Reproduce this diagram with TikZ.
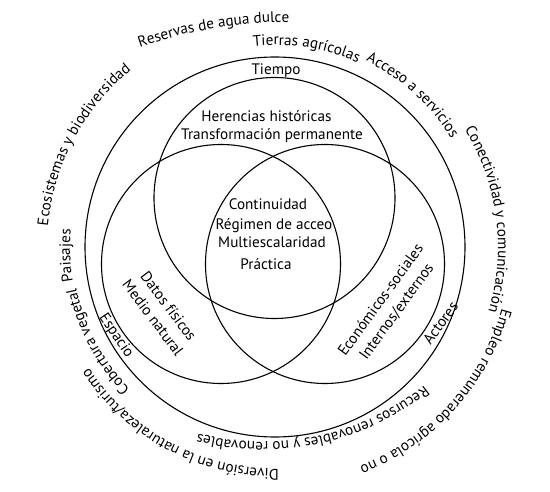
\documentclass[tikz,border=0pt]{standalone}
\usepackage{fontspec}
\setmainfont{PT Sans}
\usetikzlibrary{decorations.text}
\newcommand\lbfont{\fontsize{15.2}{19.5}\selectfont}
\tikzset{
  ring/.style={draw=black,line width=1.1pt},
  lbl/.style={font=\lbfont, inner sep=0pt, anchor=base},
  blk/.style={font=\lbfont, inner sep=0pt, align=center},
}
% #1 cx, #2 cy (screen), #3 radius, #4 centre angle, #5 half span, #6 text
\newcommand\arctext[6]{%
  \path[decorate,decoration={text along path,text align=center,text={|\lbfont|#6}}]
    (#1,-#2) ++(#4+#5:#3) arc[start angle=#4+#5,end angle=#4-#5,radius=#3];
}
\begin{document}
\begin{tikzpicture}[x=1pt,y=1pt]
\useasboundingbox (0,0) rectangle (550,-492);
\coordinate (Oc) at (275,-247);
\coordinate (Tc) at (274.5,-198);
\coordinate (Lc) at (221,-264);
\coordinate (Rc) at (325,-264);
\draw[ring] (Oc) circle[radius=190];
\draw[ring] (Tc) circle[radius=120.5];
\draw[ring] (Lc) circle[radius=119.5];
\draw[ring] (Rc) circle[radius=119.5];

\node[lbl] (tiempo) at (276,-75) {Tiempo};
\node[lbl] (her) at (266.5,-122) {Herencias históricas};
\node[lbl] (tra) at (272,-140) {Transformación permanente};
\node[lbl] (con) at (268,-210) {Continuidad};
\node[lbl] (reg) at (274,-230) {Régimen de acceo};
\node[lbl] (mul) at (272,-248) {Multiescalaridad};
\node[lbl] (pra) at (266,-270) {Práctica};

\node[blk,rotate=-53] (dat) at (161,-312) {Datos físicos\\Medio natural};
\node[blk,rotate=-56] (esp) at (116,-336) {Espacio};
\node[blk,rotate=54] (eco) at (389,-306) {Económicos-sociales\\Internos/externos};
\node[blk,rotate=54] (act) at (440.5,-323) {Actores};

\arctext{289}{475}{453}{99.6}{14}{Reservas de agua dulce}
\arctext{275}{247}{202}{81}{22}{Tierras agrícolas}
\arctext{275}{247}{207}{47.8}{22}{Acceso a servicios}
\arctext{275}{247}{223}{7.5}{32}{Conectividad y comunicación}
\arctext{275}{247}{235}{-42}{34}{Empleo remunerado agrícola o no}
\arctext{263}{183}{259}{-78}{34}{Recursos renovables y no renovables}
\arctext{275}{247}{222}{-118}{36}{Diversión en la naturaleza/turismo}
\arctext{275}{247}{203}{-152}{22}{Cobertura vegetal}
\arctext{275}{247}{205}{182.4}{12}{Paisajes}
\arctext{275}{247}{228}{151.9}{30}{Ecosistemas y biodiversidad}
\end{tikzpicture}
\end{document}
